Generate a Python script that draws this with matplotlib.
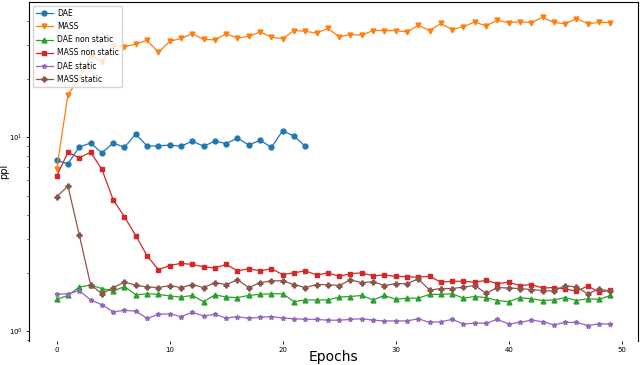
import matplotlib
matplotlib.use('Agg')
import matplotlib.pyplot as plt
import numpy as np

epochs = list(range(50))
dae_epochs = list(range(23))

dae = [7.61, 7.31, 8.92, 9.35, 8.32, 9.35, 8.89, 10.4, 9.03, 9.03, 9.13, 9.0, 9.57,
       9.0, 9.57, 9.29, 9.92, 9.13, 9.66, 8.89, 10.82, 10.15, 9.0]

mass = [6.86, 16.6, 20.2, 26.4, 24.6, 29.7, 29.4, 30.3, 31.7, 27.5,
        31.3, 32.4, 34.3, 32.0, 31.9, 34.2, 32.5, 33.2, 35.0, 32.9,
        32.3, 35.6, 35.3, 34.5, 36.5, 33.1, 33.9, 33.7, 35.6, 35.6,
        35.6, 35.0, 37.8, 35.6, 38.7, 36.0, 37.3, 39.4, 37.6, 40.2,
        39.1, 39.5, 39.1, 41.6, 39.2, 38.6, 41.0, 38.6, 39.2, 39.1]

dae_non_static = [1.46, 1.53, 1.69, 1.73, 1.66, 1.61, 1.70, 1.54, 1.56, 1.55,
                  1.52, 1.50, 1.53, 1.42, 1.54, 1.50, 1.49, 1.53, 1.55, 1.56,
                  1.56, 1.42, 1.45, 1.45, 1.45, 1.50, 1.51, 1.53, 1.45, 1.53,
                  1.46, 1.48, 1.48, 1.55, 1.55, 1.56, 1.48, 1.51, 1.49, 1.44,
                  1.42, 1.49, 1.47, 1.44, 1.45, 1.49, 1.44, 1.47, 1.46, 1.53]

mass_non_static = [6.32, 8.38, 7.85, 8.38, 6.84, 4.77, 3.89, 3.11, 2.45, 2.08,
                   2.18, 2.24, 2.21, 2.15, 2.12, 2.21, 2.05, 2.10, 2.05, 2.10,
                   1.96, 2.00, 2.05, 1.95, 2.00, 1.92, 1.98, 2.00, 1.93, 1.95,
                   1.92, 1.91, 1.90, 1.92, 1.79, 1.81, 1.81, 1.79, 1.83, 1.76,
                   1.79, 1.72, 1.74, 1.67, 1.68, 1.65, 1.61, 1.71, 1.59, 1.63]

dae_static = [1.55, 1.56, 1.62, 1.45, 1.37, 1.26, 1.28, 1.27, 1.165, 1.22,
              1.23, 1.19, 1.25, 1.20, 1.22, 1.17, 1.19, 1.165, 1.18, 1.19,
              1.17, 1.16, 1.15, 1.15, 1.14, 1.14, 1.15, 1.16, 1.14, 1.13,
              1.13, 1.13, 1.16, 1.11, 1.12, 1.15, 1.09, 1.10, 1.10, 1.15,
              1.09, 1.11, 1.14, 1.12, 1.08, 1.11, 1.11, 1.07, 1.09, 1.09]

mass_static = [4.94, 5.60, 3.14, 1.74, 1.56, 1.68, 1.79, 1.73, 1.69, 1.68,
               1.72, 1.68, 1.74, 1.68, 1.78, 1.74, 1.84, 1.68, 1.78, 1.82,
               1.82, 1.74, 1.68, 1.74, 1.74, 1.72, 1.84, 1.78, 1.80, 1.72,
               1.76, 1.76, 1.86, 1.63, 1.66, 1.66, 1.69, 1.72, 1.57, 1.68,
               1.67, 1.66, 1.64, 1.62, 1.61, 1.72, 1.69, 1.56, 1.65, 1.61]

series = [
    (dae_epochs, dae, 'o', 'DAE'),
    (epochs, mass, 'v', 'MASS'),
    (epochs, dae_non_static, '^', 'DAE non static'),
    (epochs, mass_non_static, 's', 'MASS non static'),
    (epochs, dae_static, '*', 'DAE static'),
    (epochs, mass_static, 'P', 'MASS static'),
]

fig = plt.figure(figsize=(6.4, 3.65), dpi=100)
ax = fig.add_axes([0.0453, 0.066, 0.9517, 0.9285])
for x, y, m, lab in series:
    ax.plot(x, y, marker=m, markersize=3.5, linewidth=0.9, label=lab)

ax.set_yscale('log')
ax.spines['bottom'].set_visible(False)
ax.tick_params(axis='both', which='major', labelsize=5, length=2.5, width=0.6, pad=2)
ax.tick_params(axis='y', which='minor', length=1.5, width=0.5)
ax.set_xticks([0, 10, 20, 30, 40, 50])
ax.set_xlabel('Epochs', fontsize=10)
ax.xaxis.set_label_coords(0.5, -0.028)
ax.set_ylabel('ppl', fontsize=7)
ax.yaxis.set_label_coords(-0.033, 0.5)
ax.legend(loc='upper left', fontsize=5.5, handlelength=2.2, labelspacing=0.55,
          borderpad=0.4, handletextpad=0.6)
fig.savefig('out.png', dpi=100)
